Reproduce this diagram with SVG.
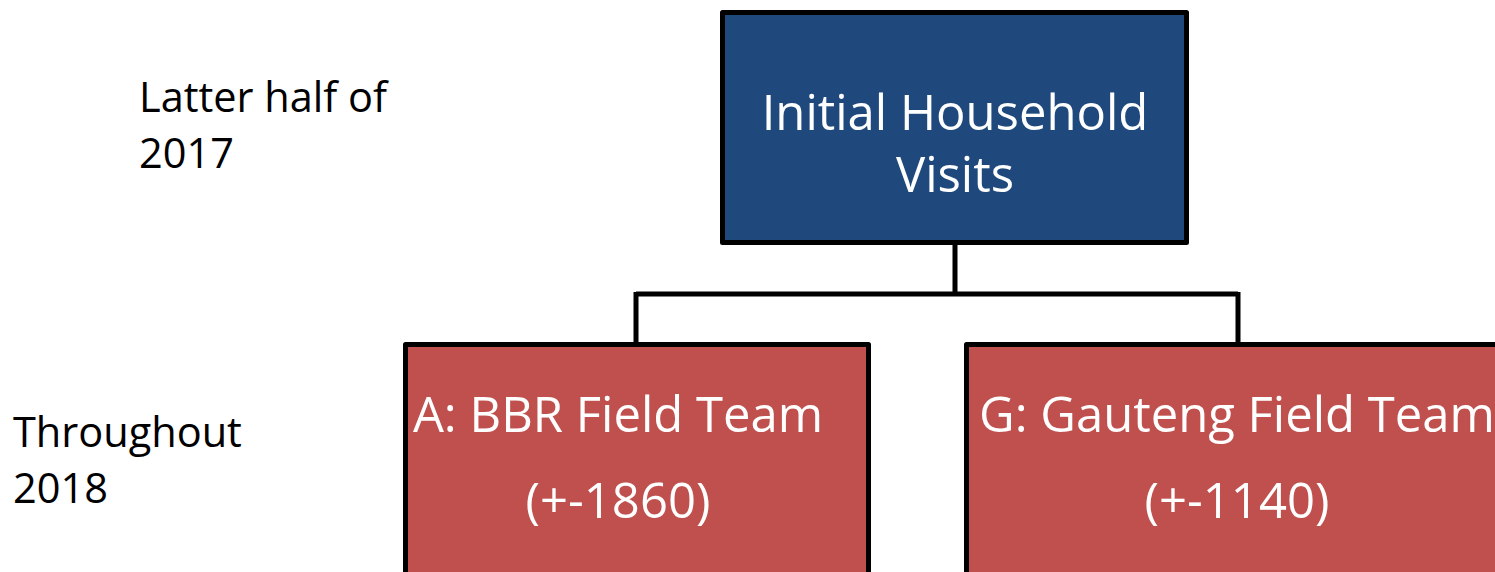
<svg xmlns="http://www.w3.org/2000/svg" width="1495" height="572" viewBox="0 0 1495 572">
<style>
.box{stroke:#000;stroke-width:5;stroke-linejoin:round}
.blue{fill:#1F497D}
.red{fill:#C0504D}
.wt{fill:#fff;font-family:"Open Sans","Noto Sans",sans-serif;font-size:49px;text-anchor:middle}
.bt{fill:#000;font-family:"Open Sans","Noto Sans",sans-serif;font-size:41.5px}
.conn{stroke:#000;stroke-width:5;fill:none}
</style>
<rect width="1495" height="572" fill="#fff"/>
<g id="labels">
<text class="bt" x="139" y="112">Latter half of</text>
<text class="bt" x="139" y="168">2017</text>
<text class="bt" x="13" y="447">Throughout</text>
<text class="bt" x="13" y="503">2018</text>
</g>
<g id="connectors">
<path class="conn" d="M955,244 V294 M636,294 H1238 M636,292 V343 M1238,292 V343"/>
</g>
<g id="node-initial">
<rect class="box blue" x="722.5" y="12.5" width="464" height="230"/>
<text class="wt" x="955" y="130">Initial Household</text>
<text class="wt" x="955" y="192">Visits</text>
</g>
<g id="node-bbr">
<rect class="box red" x="405.5" y="344.5" width="463" height="240"/>
<text class="wt" x="618" y="432">A: BBR Field Team</text>
<text class="wt" x="618" y="518">(+-1860)</text>
</g>
<g id="node-gauteng">
<rect class="box red" x="966.5" y="344.5" width="560" height="240"/>
<text class="wt" x="1237" y="432">G: Gauteng Field Team</text>
<text class="wt" x="1237" y="518">(+-1140)</text>
</g>
</svg>
